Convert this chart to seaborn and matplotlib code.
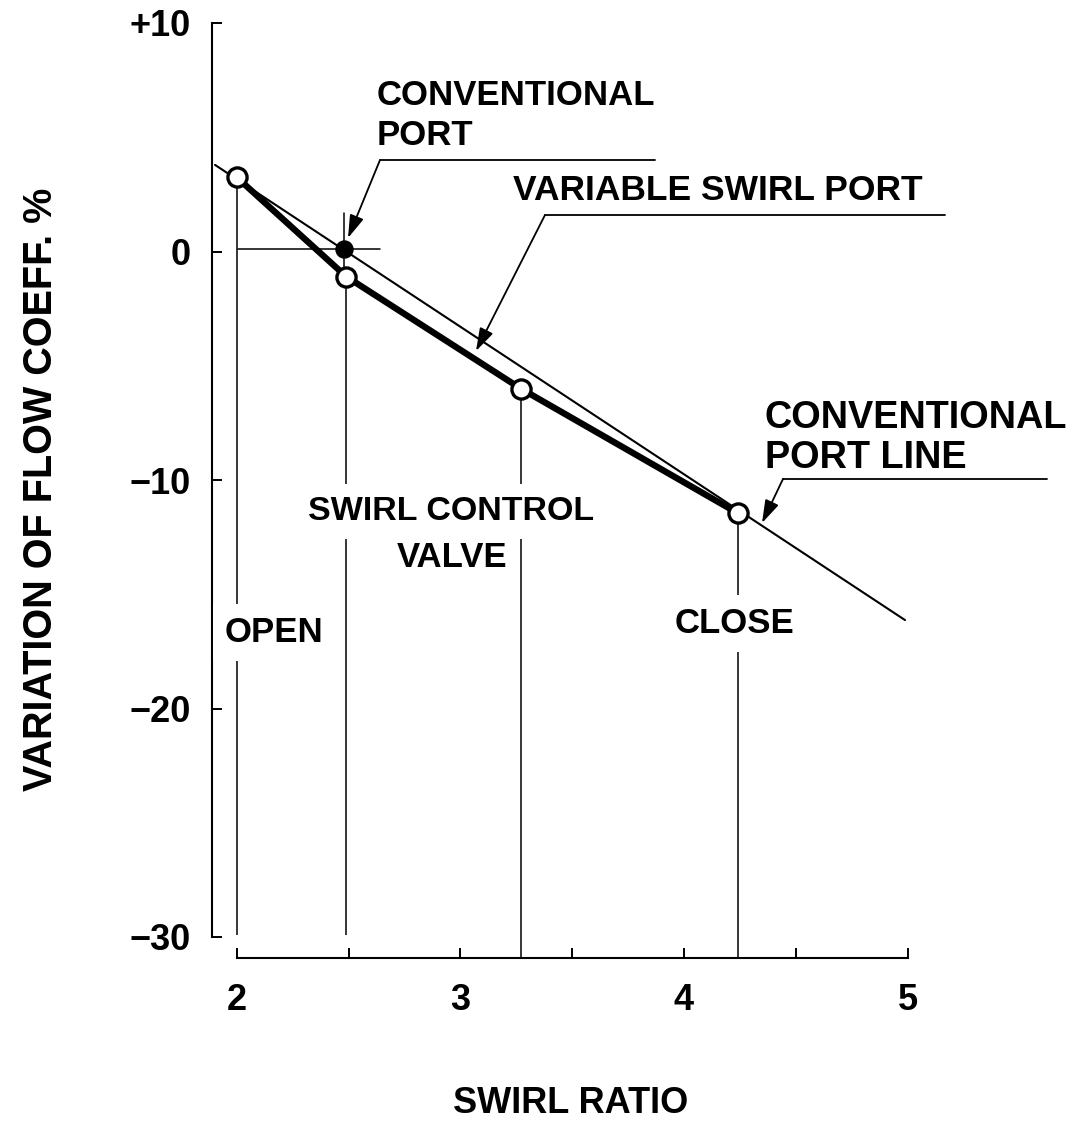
import matplotlib
matplotlib.use("Agg")
import matplotlib.pyplot as plt
import seaborn as sns
import pandas as pd
import numpy as np

# ---------------- data ----------------
swirl_ratio_variable = [2.0, 2.49, 3.27, 4.24]
flow_coeff_variable = [3.25, -1.1, -6.0, -11.45]

conv_line_x = [1.903, 4.988]
conv_line_y = [3.79, -16.13]

conv_point_x = [2.48]
conv_point_y = [0.1]

x_ticks = [2, 2.5, 3, 3.5, 4, 4.5, 5]
x_ticklabels = ["2", "", "3", "", "4", "", "5"]
y_ticks = [10, 0, -10, -20, -30]
y_ticklabels = ["+10", "0", "\u221210", "\u221220", "\u221230"]

# ---------------- style ----------------
sns.set_theme(style="ticks")
plt.rcParams["font.family"] = ["Liberation Sans", "DejaVu Sans"]
plt.rcParams["font.weight"] = "bold"

W, H = 1078, 1122
fig = plt.figure(figsize=(W / 100, H / 100), dpi=100)

# pixel -> data mapping used to lay out annotations
X0PX, XS = 236.7, 223.67   # px of x=2, px per unit
Y0PX, YS = 251.5, 22.85    # px of y=0, px per unit


def dx(px):
    return 2 + (px - X0PX) / XS


def dy(py):
    return (Y0PX - py) / YS


xlim = (dx(211.7), 5.06)
ylim = (dy(958), 10.4)
left = 211.7 / W
width = (xlim[1] - xlim[0]) * XS / W
bottom = (H - 958) / H
height = (ylim[1] - ylim[0]) * YS / H
ax = fig.add_axes([left, bottom, width, height])
ax.set_xlim(*xlim)
ax.set_ylim(*ylim)

K = "black"

# conventional port line (thin)
sns.lineplot(x=conv_line_x, y=conv_line_y, ax=ax, color=K, lw=1.5, zorder=3)
# variable swirl port (thick)
sns.lineplot(x=swirl_ratio_variable, y=flow_coeff_variable, ax=ax, color=K,
             lw=4.6, zorder=4, sort=False)

# drop lines from the variable-port points
bottoms = [dy(935), dy(935), ylim[0], ylim[0]]
ax.vlines(swirl_ratio_variable, bottoms, flow_coeff_variable, color=K, lw=1.1, zorder=2)

# cross-hair through the conventional port point
ax.plot([dx(238), dx(380)], [conv_point_y[0]] * 2, color=K, lw=1.1, zorder=2)
ax.plot([conv_point_x[0]] * 2, [dy(213), flow_coeff_variable[1]], color=K, lw=1.1, zorder=2)

# markers
sns.scatterplot(x=swirl_ratio_variable, y=flow_coeff_variable, ax=ax, s=190,
                facecolor="white", edgecolor=K, linewidth=2.4, zorder=6)
sns.scatterplot(x=conv_point_x, y=conv_point_y, ax=ax, s=150,
                color=K, edgecolor=K, linewidth=1, zorder=6)

# ---------------- axes / spines ----------------
for s in ["top", "right"]:
    ax.spines[s].set_visible(False)
ax.spines["left"].set_bounds(-30, 10)
ax.spines["bottom"].set_bounds(2, 5)
for s in ["left", "bottom"]:
    ax.spines[s].set_linewidth(1.5)
    ax.spines[s].set_color(K)

ax.set_xticks(x_ticks)
ax.set_xticklabels(x_ticklabels)
ax.set_yticks(y_ticks)
ax.set_yticklabels(y_ticklabels)
ax.tick_params(axis="both", direction="in", length=7, width=1.4, colors=K,
               labelsize=26)
ax.tick_params(axis="x", pad=18)
ax.tick_params(axis="y", pad=15)
for lab in ax.get_xticklabels() + ax.get_yticklabels():
    lab.set_fontweight("bold")

# ---------------- annotations ----------------
FS = 25
white_box = dict(facecolor="white", edgecolor="none", boxstyle="square,pad=0.35")


def label(px, py, s, size=FS, box=False):
    ax.text(dx(px), dy(py), s, fontsize=size, fontweight="bold", color=K,
            ha="left", va="baseline", zorder=8, clip_on=False,
            bbox=white_box if box else None)


label(377, 105, "CONVENTIONAL")
label(377, 145, "PORT")
label(513, 200, "VARIABLE SWIRL PORT", size=25.5)
label(765, 428, "CONVENTIONAL", size=27.3)
label(765, 468, "PORT LINE", size=27.3)
label(308, 520, "SWIRL CONTROL", size=24.5, box=True)
label(397, 567, "VALVE", box=True)
label(225, 642, "OPEN", box=True)
label(675, 633, "CLOSE", box=True)


def leader(corner, end, tip):
    ax.plot([dx(corner[0]), dx(end[0])], [dy(corner[1]), dy(end[1])],
            color=K, lw=1.3, clip_on=False, zorder=7)
    ax.annotate("", xy=(dx(tip[0]), dy(tip[1])),
                xytext=(dx(corner[0]), dy(corner[1])),
                arrowprops=dict(arrowstyle="-|>,head_length=0.7,head_width=0.22",
                                mutation_scale=20, color=K, lw=1.3,
                                shrinkA=0, shrinkB=0),
                annotation_clip=False, zorder=7)


leader((380, 160), (655, 160), (348, 238))
leader((545, 215), (945, 215), (476, 351))
leader((783, 479), (1047, 479), (762, 523))

# axis titles
fig.text(571 / W, (H - 1113) / H, "SWIRL RATIO", fontsize=26, fontweight="bold",
         ha="center", va="baseline", color=K)
fig.text(41 / W, (H - 489) / H, "VARIATION OF FLOW COEFF. %", fontsize=28.5,
         fontweight="bold", rotation=90, ha="center", va="center", color=K)

fig.savefig("out.png", dpi=100, facecolor="white")
